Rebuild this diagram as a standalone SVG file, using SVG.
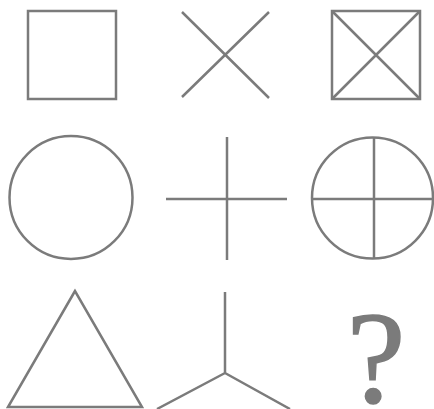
<svg xmlns="http://www.w3.org/2000/svg" width="434" height="409" viewBox="0 0 434 409">
<style>
.s{fill:none;stroke:#7b7b7b;stroke-width:2.5;stroke-linejoin:miter}
.q{fill:#7b7b7b;stroke:#7b7b7b;stroke-width:1.5;font-family:"Liberation Serif",serif;font-size:132px;text-anchor:middle}
</style>
<rect width="434" height="409" fill="#fff"/>
<g id="square"><rect class="s" x="28" y="11" width="88" height="88"/></g>
<g id="x"><path class="s" d="M182 12L269 98M269 12L182 97"/></g>
<g id="squareX"><rect class="s" x="332" y="11" width="88" height="88"/><path class="s" d="M332 11L420 99M420 11L332 99"/></g>
<g id="circle"><circle class="s" cx="71" cy="197.5" r="61.5"/></g>
<g id="cross"><path class="s" d="M227 137V260M166 199H287"/></g>
<g id="circleCross"><circle class="s" cx="372.5" cy="198" r="60.5"/><path class="s" d="M374 137V259M312 199H433"/></g>
<g id="triangle"><path class="s" d="M75 291L8 407H142Z"/></g>
<g id="ystar"><path class="s" d="M225 292V373M225 373L157 409M225 373L290 409"/></g>
<g id="question"><text class="q" x="376" y="402">?</text></g>
</svg>
